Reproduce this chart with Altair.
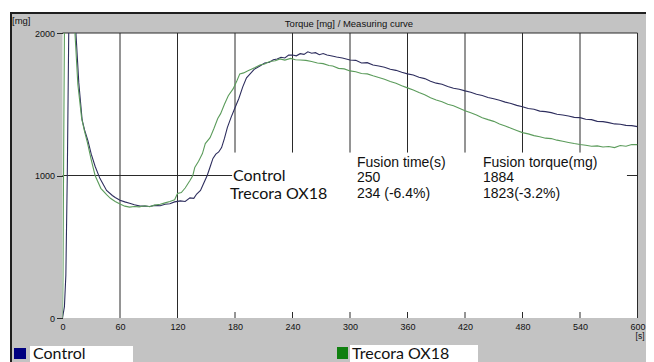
import altair as alt
import pandas as pd

# ---------------- data ----------------
control_t = [0, 2, 3.5, 5, 6.5, 10, 14, 17, 20.5, 23, 26.5, 30, 34, 39, 46, 52, 55, 60, 65, 70,
             75, 81, 86, 91, 96, 102, 107, 112, 117, 123, 128, 133, 137, 140, 144, 147, 151, 154,
             157, 160, 163, 166, 169, 172, 176, 180, 184, 188, 192, 196, 200, 206, 211, 216, 220,
             224, 228, 232, 236, 240, 244, 248, 252, 256, 260, 264, 268, 272, 276, 280, 286, 292,
             300, 306, 312, 318, 324, 330, 336, 342, 348, 354, 360, 366, 372, 378, 384, 390, 396,
             402, 408, 414, 420, 426, 432, 438, 444, 450, 456, 462, 468, 474, 480, 486, 492, 498,
             504, 510, 516, 522, 528, 534, 540, 546, 552, 558, 564, 570, 576, 582, 588, 594, 600]
control_v = [0, 80, 300, 1000, 2000, 2600, 2000, 1650, 1390, 1320, 1245, 1150, 1065, 980, 895,
             860, 846, 826, 815, 805, 795, 785, 786, 782, 790, 788, 798, 802, 815, 822, 818, 843,
             840, 870, 895, 940, 1000, 1060, 1120, 1150, 1165, 1196, 1260, 1336, 1410, 1476, 1540,
             1620, 1685, 1715, 1745, 1769, 1790, 1795, 1812, 1818, 1830, 1825, 1845, 1846, 1840,
             1855, 1850, 1868, 1858, 1862, 1848, 1856, 1845, 1840, 1832, 1825, 1811, 1808, 1790,
             1792, 1775, 1768, 1760, 1745, 1738, 1725, 1713, 1705, 1690, 1680, 1662, 1648, 1640,
             1625, 1612, 1605, 1594, 1584, 1570, 1562, 1548, 1538, 1528, 1515, 1505, 1492, 1483,
             1470, 1465, 1452, 1448, 1441, 1430, 1425, 1418, 1408, 1406, 1395, 1392, 1380, 1378,
             1371, 1362, 1360, 1352, 1350, 1343]

trecora_t = [0, 0.5, 1, 2, 6, 13, 16, 20, 23, 26, 30, 34, 40, 46, 50, 55, 60, 65, 70, 75, 80,
             86, 91, 96, 102, 107, 112, 117, 120, 124, 128, 133, 136, 138, 142, 146, 149, 154,
             158, 162, 165, 169, 173, 178, 182, 185, 189, 193, 197, 201, 206, 211, 216, 222, 227,
             232, 238, 243, 248, 254, 260, 266, 272, 278, 282, 288, 294, 300, 306, 312, 318, 324,
             330, 336, 342, 348, 354, 360, 366, 372, 378, 384, 390, 396, 402, 408, 414, 420, 426,
             432, 438, 444, 450, 456, 462, 468, 474, 480, 486, 492, 498, 504, 510, 516, 522, 528,
             534, 540, 546, 552, 558, 564, 570, 576, 582, 588, 594, 600]
trecora_v = [0, 300, 900, 2000, 2600, 2000, 1640, 1400, 1310, 1230, 1110, 1000, 910, 865, 840,
             818, 800, 785, 778, 782, 780, 788, 781, 792, 798, 808, 818, 830, 874, 880, 912, 965,
             1000, 1056, 1100, 1154, 1224, 1266, 1330, 1400, 1434, 1500, 1560, 1608, 1665, 1713,
             1720, 1734, 1745, 1758, 1776, 1782, 1800, 1805, 1818, 1810, 1822, 1812, 1811, 1808,
             1800, 1790, 1785, 1772, 1769, 1752, 1748, 1734, 1728, 1716, 1713, 1700, 1688, 1676,
             1660, 1648, 1630, 1615, 1600, 1582, 1566, 1545, 1530, 1518, 1500, 1490, 1472, 1455,
             1440, 1425, 1405, 1392, 1380, 1362, 1348, 1332, 1316, 1301, 1292, 1280, 1272, 1262,
             1259, 1248, 1240, 1232, 1224, 1217, 1212, 1205, 1208, 1200, 1203, 1196, 1210, 1205,
             1218, 1217]

series_names = ["Control", "Trecora OX18"]
series_colors = ["#2e2e5e", "#5c9c5c"]
legend_colors = ["#000080", "#108010"]

x_ticks = list(range(0, 601, 60))
y_ticks = [0, 1000, 2000]
full_grid = [60, 120]
split_grid = [180, 240, 300, 360, 420, 480, 540]

title_text = "Torque [mg] / Measuring curve"
fusion_header = ["Fusion time(s)", "Fusion torque(mg)"]
fusion_control = ["250", "1884"]
fusion_trecora = ["234 (-6.4%)", "1823(-3.2%)"]

# ---------------- tables ----------------
lines_df = pd.concat([
    pd.DataFrame({"t": control_t, "v": control_v, "series": series_names[0]}),
    pd.DataFrame({"t": trecora_t, "v": trecora_v, "series": series_names[1]}),
])

W, H = 575, 285
xs = alt.Scale(domain=[0, 600], nice=False, zero=False)
ys = alt.Scale(domain=[0, 2000], nice=False)
GRID = "#2a2a2a"
ARIAL = "Liberation Sans"
CAL = "Lato"

x_axis = alt.Axis(values=x_ticks, ticks=False, domain=False, grid=False, title=None,
                  labelPadding=4, labelFont=ARIAL, labelFontSize=9, zindex=2,
                  labelColor="#111", labelFlush=False, format="d")
y_axis = alt.Axis(values=y_ticks, tickSize=6, tickColor=GRID, domain=False, title=None,
                  grid=False, labelPadding=2, labelFont=ARIAL, labelFontSize=9, zindex=2,
                  labelColor="#111", format="d")

# background frame (gray panel with dark border) and white plot area
frame = alt.Chart(pd.DataFrame({"a": [0]})).mark_rect(
    fill="#c3c3c3", stroke="#1e1e1e", strokeWidth=2
).encode(x=alt.value(-51.5), x2=alt.value(700), y=alt.value(-20), y2=alt.value(400))
plot_bg = alt.Chart(pd.DataFrame({"a": [0]})).mark_rect(fill="white").encode(
    x=alt.value(0), x2=alt.value(W), y=alt.value(0), y2=alt.value(H))

# grid lines
grid_df = pd.concat([
    pd.DataFrame({"t": full_grid + [600], "lo": 0, "hi": 2000}),
    pd.DataFrame({"t": split_grid, "lo": 1161, "hi": 2000}),
    pd.DataFrame({"t": split_grid, "lo": 0, "hi": 42}),
])
vgrid = alt.Chart(grid_df).mark_rule(color=GRID, strokeWidth=1).encode(
    x=alt.X("t:Q", scale=xs, axis=x_axis),
    y=alt.Y("lo:Q", scale=ys, axis=y_axis), y2="hi:Q")
hgrid_df = pd.DataFrame({"y": [1000, 1000, 2000], "a": [0, 589, 0], "b": [177, 600, 600]})
hgrid = alt.Chart(hgrid_df).mark_rule(color=GRID, strokeWidth=1).encode(
    y=alt.Y("y:Q", scale=ys, axis=y_axis),
    x=alt.X("a:Q", scale=xs, axis=x_axis), x2="b:Q")

# curves
curves = alt.Chart(lines_df).mark_line(strokeWidth=1.1, clip=True).encode(
    x=alt.X("t:Q", scale=xs, axis=x_axis),
    y=alt.Y("v:Q", scale=ys, axis=y_axis),
    color=alt.Color("series:N", legend=None,
                    scale=alt.Scale(domain=series_names, range=series_colors)),
    order=alt.Order("t:Q"),
)


def txt(s, x, y, size, font, color="#111", align="left"):
    return alt.Chart(pd.DataFrame({"s": [s]})).mark_text(
        align=align, baseline="alphabetic", font=font, fontSize=size, color=color
    ).encode(text="s:N", x=alt.value(x), y=alt.value(y))


def box(x, x2, y, y2, color):
    return alt.Chart(pd.DataFrame({"a": [0]})).mark_rect(fill=color).encode(
        x=alt.value(x), x2=alt.value(x2), y=alt.value(y), y2=alt.value(y2))


texts = [
    txt(title_text, 286.5, -6, 9.5, ARIAL, align="center"),
    txt("[mg]", -50.5, -9, 9.5, ARIAL),
    txt("[s]", 582, 306, 8.5, ARIAL, align="right"),
    txt(series_names[0], 170.5, 148, 16, CAL),
    txt(series_names[1], 167.5, 166, 16, CAL),
    txt(fusion_header[0], 294.5, 134, 14, ARIAL),
    txt(fusion_control[0], 294.5, 149, 14, ARIAL),
    txt(fusion_trecora[0], 294.5, 165, 14, ARIAL),
    txt(fusion_header[1], 420.5, 134, 14, ARIAL),
    txt(fusion_control[1], 420.5, 149, 14, ARIAL),
    txt(fusion_trecora[1], 420.5, 165, 14, ARIAL),
]

legend = [
    box(-48.5, -36.5, 315, 326, legend_colors[0]),
    box(-32.5, 70.5, 313, 330, "white"),
    txt(series_names[0], -29.5, 326, 16, CAL),
    box(274.5, 285.5, 314, 326, legend_colors[1]),
    box(287.5, 415.5, 312, 330, "white"),
    txt(series_names[1], 289.5, 326, 16, CAL),
]

chart = alt.layer(frame, plot_bg, vgrid, hgrid, curves, *texts, *legend).properties(
    width=W, height=H,
    autosize=alt.AutoSizeParams(type="none"),
    padding={"left": 54.5, "top": 25, "right": 8.5, "bottom": 44},
    background="white",
).configure_view(stroke=None)

chart.save("out.html", embed_options={"renderer": "svg", "actions": False})
